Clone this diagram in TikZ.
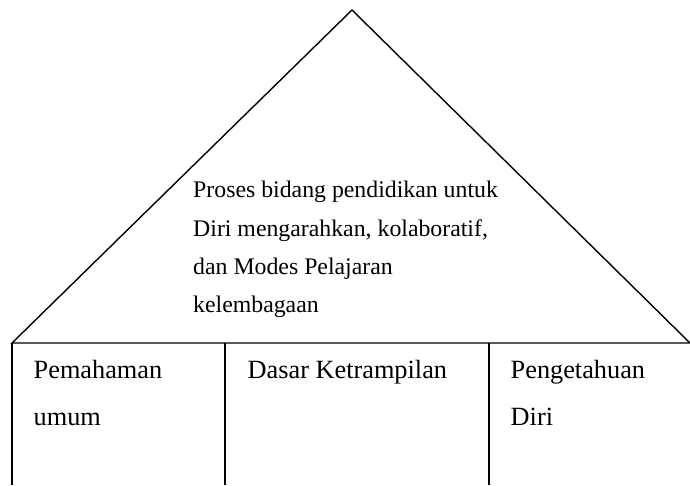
\documentclass[tikz,border=0pt]{standalone}
\usepackage{fontspec}
\setmainfont{Liberation Serif}
\usetikzlibrary{positioning}

\begin{document}
\begin{tikzpicture}[x=1pt,y=-1pt,line width=1.4pt,
    roof text/.style={anchor=base west,inner sep=0pt,font=\fontsize{23.8}{28}\selectfont},
    cell text/.style={anchor=base west,inner sep=0pt,font=\fontsize{26.3}{31}\selectfont}]
    \useasboundingbox (0,0) rectangle (690,485);

    \coordinate (top) at (352,10);
    \coordinate (left) at (12,343);
    \coordinate (right) at (690,343);

    % roof
    \draw[line join=miter] (left) -- (top) -- (right) -- cycle;

    % walls
    \draw (left) -- (12,485);
    \draw (225,343) -- (225,485);
    \draw (489,343) -- (489,485);

    \node[roof text] (r1) at (192.5,197) {Proses bidang pendidikan untuk};
    \node[roof text] (r2) at (192.5,236) {Diri mengarahkan, kolaboratif,};
    \node[roof text] (r3) at (192.5,274) {dan Modes Pelajaran};
    \node[roof text] (r4) at (192.5,312) {kelembagaan};

    \node[cell text] (c1) at (33,378) {Pemahaman};
    \node[cell text] (c1b) at (33,425) {umum};
    \node[cell text] (c2) at (247,378) {Dasar Ketrampilan};
    \node[cell text] (c3) at (510,378) {Pengetahuan};
    \node[cell text] (c3b) at (510,425) {Diri};
\end{tikzpicture}
\end{document}
